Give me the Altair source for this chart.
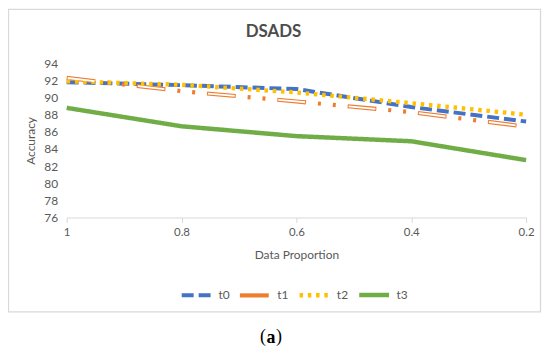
import altair as alt
import pandas as pd

proportions = ["1", "0.8", "0.6", "0.4", "0.2"]
series_names = ["t0", "t1", "t2", "t3"]
t0 = [91.8, 91.45, 91.0, 88.9, 87.2]
t1 = [92.3, 90.75, 89.55, 88.3, 86.6]
t2 = [91.9, 91.5, 90.6, 89.35, 88.0]
t3 = [88.8, 86.65, 85.5, 84.9, 82.7]
y_ticks = [76, 78, 80, 82, 84, 86, 88, 90, 92, 94]

colors = ["#4472C4", "#ED7D31", "#FFC000", "#70AD47"]
dashes = [[12, 5], [29, 12, 3, 12, 3, 12], [3.5, 4.8], [1, 0]]
widths = [4, 4.5, 3.5, 3]

rows = []
for name, vals in zip(series_names, [t0, t1, t2, t3]):
    for p, v in zip(proportions, vals):
        rows.append({"prop": p, "series": name, "acc": v})
df = pd.DataFrame(rows)

FONT = "Lato"
GREY = "#595959"

x_enc = alt.X(
    "prop:O", sort=proportions, scale=alt.Scale(padding=0),
    axis=alt.Axis(title="Data Proportion", labelAngle=0, domainColor="#d9d9d9",
                  tickColor="#d9d9d9", tickSize=5, labelPadding=4, titlePadding=12,
                  grid=False, labelFont=FONT, labelFontSize=11.5, labelColor=GREY,
                  titleFont=FONT, titleFontSize=12, titleFontWeight="normal", titleColor=GREY),
)
y_enc = alt.Y(
    "acc:Q", scale=alt.Scale(domain=[76, 94], nice=False, zero=False),
    axis=alt.Axis(title="Accuracy", values=y_ticks, domain=False, ticks=False, grid=False,
                  labelPadding=9, titlePadding=6, labelFont=FONT, labelFontSize=12,
                  labelColor=GREY, titleFont=FONT, titleFontSize=12,
                  titleFontWeight="normal", titleColor=GREY),
)

leg = alt.Legend(title=None, orient="none", legendX=113.7, legendY=215.3,
                 direction="horizontal", symbolType="stroke", symbolSize=900,
                 labelFont=FONT, labelFontSize=12, labelColor=GREY, labelOffset=5,
                 columnPadding=1, padding=0)

lines = alt.Chart(df).mark_line(strokeCap="butt", strokeJoin="round").encode(
    x=x_enc, y=y_enc,
    color=alt.Color("series:N", scale=alt.Scale(domain=series_names, range=colors), legend=leg),
    strokeDash=alt.StrokeDash("series:N", scale=alt.Scale(domain=series_names, range=dashes), legend=leg),
    strokeWidth=alt.StrokeWidth("series:N", scale=alt.Scale(domain=series_names, range=widths), legend=leg),
)

inner = alt.Chart(df).transform_filter("datum.series == 't1'").mark_line(
    color="white", strokeWidth=1.8, strokeDash=[27, 44], strokeDashOffset=-1, strokeCap="butt"
).encode(x=x_enc, y=y_enc)

one = pd.DataFrame({"k": [0]})
frame = alt.Chart(one).mark_rect(fill="transparent", stroke="#d9d9d9", strokeWidth=1.3).encode(
    x=alt.value(-58.5), x2=alt.value(476.5), y=alt.value(-54.2), y2=alt.value(250)
)
title = alt.Chart(one).mark_text(text="DSADS", font=FONT, fontSize=17, fontWeight="bold",
                                 color="#4d4d4d", align="center", baseline="middle").encode(
    x=alt.value(208), y=alt.value(-31)
)
cap_a = alt.Chart(one).mark_text(text="a", font="Liberation Serif", fontSize=18, fontWeight="bold",
                                 color="black", align="center", baseline="middle").encode(
    x=alt.value(205.5), y=alt.value(276)
)
cap_l = alt.Chart(one).mark_text(text="(", font="Liberation Serif", fontSize=18,
                                 color="black", align="right", baseline="middle").encode(
    x=alt.value(200.5), y=alt.value(275)
)
cap_r = alt.Chart(one).mark_text(text=")", font="Liberation Serif", fontSize=18,
                                 color="black", align="left", baseline="middle").encode(
    x=alt.value(210.5), y=alt.value(275)
)

chart = alt.layer(frame, lines, inner, title, cap_l, cap_a, cap_r).properties(
    width=462, height=155,
    padding={"left": 59, "top": 54.7, "right": 16, "bottom": 128.3},
    autosize=alt.AutoSizeParams(type="none"),
).configure_view(stroke=None)

chart.save("out.html", embed_options={"renderer": "svg", "actions": False})
